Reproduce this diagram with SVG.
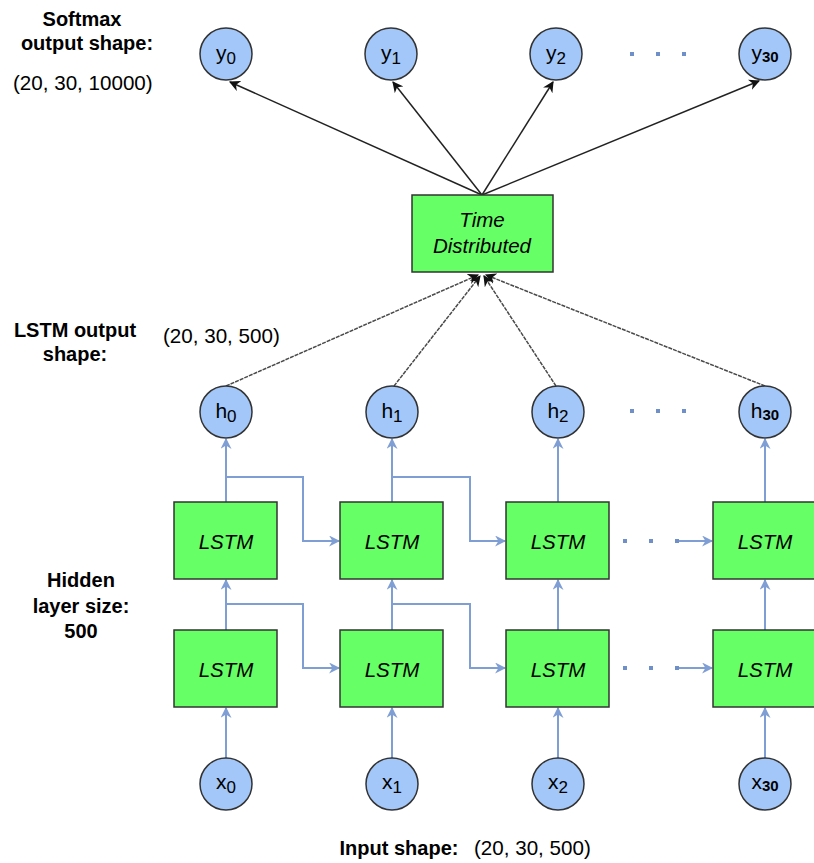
<svg xmlns="http://www.w3.org/2000/svg" width="814" height="863" viewBox="0 0 814 863">
  <style>
    .bg { fill: #ffffff; }
    .cell { fill: #66ff66; stroke: #333333; stroke-width: 1.5; }
    .node { fill: #a2c7f8; stroke: #333333; stroke-width: 1.5; }
    .cellText { font-family: "Liberation Sans", Arial, sans-serif; font-style: italic; font-size: 20.5px; fill: #000000; text-anchor: middle; }
    .tdText { font-family: "Liberation Sans", Arial, sans-serif; font-style: italic; font-size: 20.5px; fill: #000000; text-anchor: middle; }
    .nodeText { font-family: "Liberation Sans", Arial, sans-serif; font-size: 21px; fill: #000000; text-anchor: middle; }
    .sub { font-size: 17px; }
    .sub2 { font-size: 15px; font-weight: bold; }
    .label { font-family: "Liberation Sans", Arial, sans-serif; font-size: 20px; font-weight: bold; fill: #000000; text-anchor: middle; }
    .value { font-family: "Liberation Sans", Arial, sans-serif; font-size: 20.6px; fill: #000000; }
    .flow { fill: none; stroke: #7f9ed3; stroke-width: 2; }
    .out { fill: none; stroke: #222222; stroke-width: 1.5; }
    .merge { fill: none; stroke: #4a4a4a; stroke-width: 1.5; stroke-dasharray: 4 1; }
    .dot { fill: #6f8fc8; }
  </style>
  <defs>
    <marker id="arrowBlue" viewBox="0 0 10 10" refX="9" refY="5" markerWidth="11" markerHeight="11" markerUnits="userSpaceOnUse" orient="auto">
      <path d="M0,0 L10,5 L0,10 L3,5 z" fill="#7f9ed3"/>
    </marker>
    <marker id="arrowDark" viewBox="0 0 10 10" refX="9" refY="5" markerWidth="11" markerHeight="11" markerUnits="userSpaceOnUse" orient="auto">
      <path d="M0,0 L10,5 L0,10 L3,5 z" fill="#111111"/>
    </marker>
  </defs>

  <rect class="bg" x="0" y="0" width="814" height="863"/>

  <!-- side labels -->
  <g id="labels">
    <text class="label" x="82" y="26">Softmax</text>
    <text class="label" x="87" y="50">output shape:</text>
    <text class="value" x="13" y="90">(20, 30, 10000)</text>
    <text class="label" x="75" y="337">LSTM output</text>
    <text class="label" x="75" y="361">shape:</text>
    <text class="value" x="163" y="343">(20, 30, 500)</text>
    <text class="label" x="81" y="587">Hidden</text>
    <text class="label" x="81" y="613">layer size:</text>
    <text class="label" x="81" y="638">500</text>
    <text class="label" x="399" y="855">Input shape:</text>
    <text class="value" x="474" y="855">(20, 30, 500)</text>
  </g>

  <!-- connectors -->
  <g id="connectors">
    <!-- TimeDistributed to softmax outputs -->
    <line class="out" x1="482" y1="195" x2="230" y2="82" marker-end="url(#arrowDark)"/>
    <line class="out" x1="482" y1="195" x2="393" y2="82" marker-end="url(#arrowDark)"/>
    <line class="out" x1="482" y1="195" x2="553" y2="82" marker-end="url(#arrowDark)"/>
    <line class="out" x1="482" y1="195" x2="759" y2="81" marker-end="url(#arrowDark)"/>

    <!-- LSTM outputs into TimeDistributed -->
    <line class="merge" x1="226" y1="386" x2="478" y2="275" marker-end="url(#arrowDark)"/>
    <line class="merge" x1="394" y1="386" x2="480" y2="276" marker-end="url(#arrowDark)"/>
    <line class="merge" x1="556" y1="386" x2="484" y2="276" marker-end="url(#arrowDark)"/>
    <line class="merge" x1="765" y1="386" x2="486" y2="275" marker-end="url(#arrowDark)"/>

    <!-- upper LSTM to h -->
    <line class="flow" x1="226" y1="502" x2="226" y2="439" marker-end="url(#arrowBlue)"/>
    <line class="flow" x1="392" y1="502" x2="392" y2="439" marker-end="url(#arrowBlue)"/>
    <line class="flow" x1="558" y1="502" x2="558" y2="439" marker-end="url(#arrowBlue)"/>
    <line class="flow" x1="765" y1="502" x2="765" y2="439" marker-end="url(#arrowBlue)"/>

    <!-- lower LSTM to upper LSTM -->
    <line class="flow" x1="226" y1="630" x2="226" y2="580" marker-end="url(#arrowBlue)"/>
    <line class="flow" x1="392" y1="630" x2="392" y2="580" marker-end="url(#arrowBlue)"/>
    <line class="flow" x1="558" y1="630" x2="558" y2="580" marker-end="url(#arrowBlue)"/>
    <line class="flow" x1="765" y1="630" x2="765" y2="580" marker-end="url(#arrowBlue)"/>

    <!-- x to lower LSTM -->
    <line class="flow" x1="226" y1="758" x2="226" y2="708" marker-end="url(#arrowBlue)"/>
    <line class="flow" x1="392" y1="758" x2="392" y2="708" marker-end="url(#arrowBlue)"/>
    <line class="flow" x1="558" y1="758" x2="558" y2="708" marker-end="url(#arrowBlue)"/>
    <line class="flow" x1="765" y1="758" x2="765" y2="708" marker-end="url(#arrowBlue)"/>

    <!-- recurrent state, upper layer -->
    <path class="flow" d="M226,477 H303 V541 H339" marker-end="url(#arrowBlue)"/>
    <path class="flow" d="M392,477 H470 V541 H505" marker-end="url(#arrowBlue)"/>
    <line class="flow" x1="677" y1="541" x2="712" y2="541" marker-end="url(#arrowBlue)"/>

    <!-- recurrent state, lower layer -->
    <path class="flow" d="M226,604 H303 V668 H339" marker-end="url(#arrowBlue)"/>
    <path class="flow" d="M392,604 H470 V668 H505" marker-end="url(#arrowBlue)"/>
    <line class="flow" x1="677" y1="668" x2="712" y2="668" marker-end="url(#arrowBlue)"/>
  </g>

  <!-- ellipsis dots -->
  <g id="ellipses">
    <rect class="dot" x="630" y="52" width="4" height="4"/>
    <rect class="dot" x="656" y="52" width="4" height="4"/>
    <rect class="dot" x="682" y="52" width="4" height="4"/>
    <rect class="dot" x="630" y="409" width="4" height="4"/>
    <rect class="dot" x="656" y="409" width="4" height="4"/>
    <rect class="dot" x="682" y="409" width="4" height="4"/>
    <rect class="dot" x="623" y="539" width="4" height="4"/>
    <rect class="dot" x="649" y="539" width="4" height="4"/>
    <rect class="dot" x="675" y="539" width="4" height="4"/>
    <rect class="dot" x="623" y="666" width="4" height="4"/>
    <rect class="dot" x="649" y="666" width="4" height="4"/>
    <rect class="dot" x="675" y="666" width="4" height="4"/>
  </g>

  <!-- softmax outputs -->
  <g id="y0"><circle class="node" cx="226" cy="54" r="26"/><text class="nodeText" x="226" y="60">y<tspan class="sub" dy="4">0</tspan></text></g>
  <g id="y1"><circle class="node" cx="391" cy="54" r="26"/><text class="nodeText" x="391" y="60">y<tspan class="sub" dy="4">1</tspan></text></g>
  <g id="y2"><circle class="node" cx="556" cy="54" r="26"/><text class="nodeText" x="556" y="60">y<tspan class="sub" dy="4">2</tspan></text></g>
  <g id="y30"><circle class="node" cx="765" cy="54" r="26"/><text class="nodeText" x="765" y="60">y<tspan class="sub2" dy="2">30</tspan></text></g>

  <!-- time distributed dense -->
  <g id="timeDistributed">
    <rect class="cell" x="412" y="195" width="141" height="77"/>
    <text class="tdText" x="482" y="227">Time</text>
    <text class="tdText" x="482" y="253">Distributed</text>
  </g>

  <!-- hidden outputs -->
  <g id="h0"><circle class="node" cx="226" cy="412" r="26"/><text class="nodeText" x="226" y="418">h<tspan class="sub" dy="4">0</tspan></text></g>
  <g id="h1"><circle class="node" cx="392" cy="412" r="26"/><text class="nodeText" x="392" y="418">h<tspan class="sub" dy="4">1</tspan></text></g>
  <g id="h2"><circle class="node" cx="558" cy="412" r="26"/><text class="nodeText" x="558" y="418">h<tspan class="sub" dy="4">2</tspan></text></g>
  <g id="h30"><circle class="node" cx="765" cy="412" r="26"/><text class="nodeText" x="765" y="418">h<tspan class="sub2" dy="2">30</tspan></text></g>

  <!-- upper LSTM layer -->
  <g id="lstmTop0"><rect class="cell" x="174" y="502" width="103" height="77"/><text class="cellText" x="226" y="549">LSTM</text></g>
  <g id="lstmTop1"><rect class="cell" x="340" y="502" width="103" height="77"/><text class="cellText" x="392" y="549">LSTM</text></g>
  <g id="lstmTop2"><rect class="cell" x="506" y="502" width="103" height="77"/><text class="cellText" x="558" y="549">LSTM</text></g>
  <g id="lstmTop30"><rect class="cell" x="713" y="502" width="103" height="77"/><text class="cellText" x="765" y="549">LSTM</text></g>

  <!-- lower LSTM layer -->
  <g id="lstmBot0"><rect class="cell" x="174" y="630" width="103" height="77"/><text class="cellText" x="226" y="677">LSTM</text></g>
  <g id="lstmBot1"><rect class="cell" x="340" y="630" width="103" height="77"/><text class="cellText" x="392" y="677">LSTM</text></g>
  <g id="lstmBot2"><rect class="cell" x="506" y="630" width="103" height="77"/><text class="cellText" x="558" y="677">LSTM</text></g>
  <g id="lstmBot30"><rect class="cell" x="713" y="630" width="103" height="77"/><text class="cellText" x="765" y="677">LSTM</text></g>

  <!-- inputs -->
  <g id="x0"><circle class="node" cx="226" cy="784" r="26"/><text class="nodeText" x="226" y="789">x<tspan class="sub" dy="4">0</tspan></text></g>
  <g id="x1"><circle class="node" cx="392" cy="784" r="26"/><text class="nodeText" x="392" y="789">x<tspan class="sub" dy="4">1</tspan></text></g>
  <g id="x2"><circle class="node" cx="558" cy="784" r="26"/><text class="nodeText" x="558" y="789">x<tspan class="sub" dy="4">2</tspan></text></g>
  <g id="x30"><circle class="node" cx="765" cy="784" r="26"/><text class="nodeText" x="765" y="789">x<tspan class="sub2" dy="2">30</tspan></text></g>
</svg>
